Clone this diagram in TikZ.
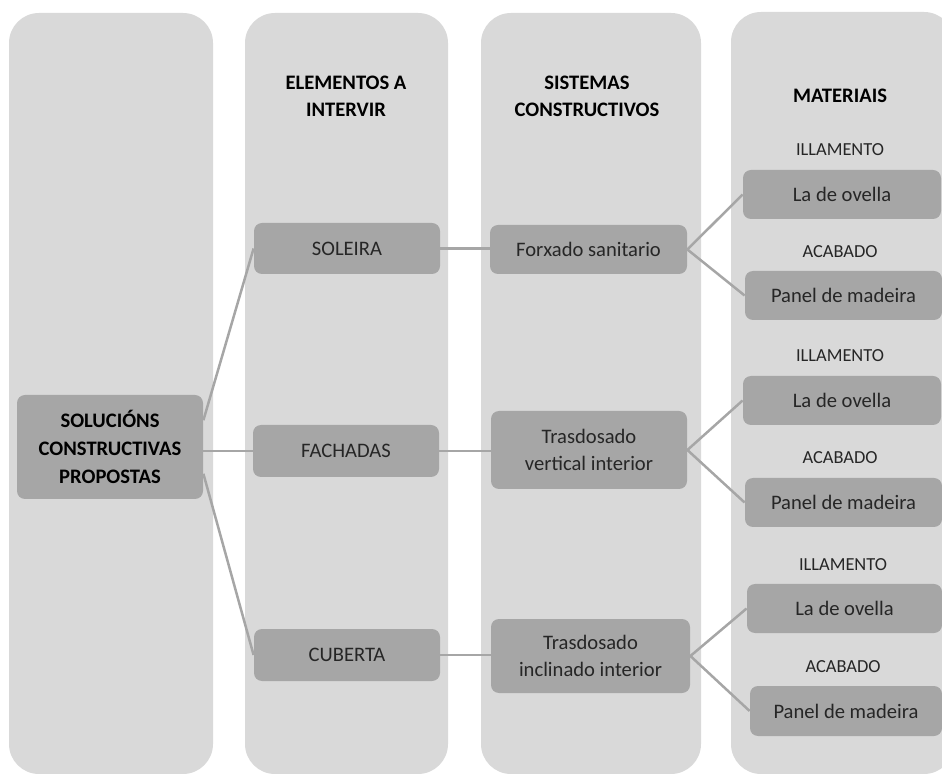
\documentclass[tikz,border=0pt]{standalone}
\usepackage{fontspec}
\setmainfont{Carlito}
\usetikzlibrary{positioning}
\definecolor{colgray}{RGB}{217, 217, 217}
\definecolor{boxgray}{RGB}{166, 166, 166}
\definecolor{textgray}{RGB}{38, 38, 38}

\begin{document}
\begin{tikzpicture}[x=0.5pt, y=-0.5pt,
    colbg/.style={fill=colgray, rounded corners=15pt},
    head/.style={font=\fontsize{10.3}{13.5}\selectfont\bfseries, text=black, align=center},
    box/.style={fill=boxgray, rounded corners=4pt, font=\fontsize{10.3}{13.5}\selectfont,
        text=textgray, align=center, inner sep=0pt},
    lbl/.style={font=\fontsize{9.2}{11}\selectfont, text=textgray},
    link/.style={draw=boxgray, line width=1.25pt}]

                \useasboundingbox (0, 0) rectangle (942, 774);

                \fill[colbg] (9, 13) rectangle (213, 774);
                \fill[colbg] (245, 13) rectangle (448, 774);
                \fill[colbg] (481, 13) rectangle (701, 774);
                \fill[colbg] (731, 12) rectangle (954, 774);

                \node[head] (elemhead) at (346, 96) {ELEMENTOS A\\INTERVIR};
                \node[head] (sisthead) at (587, 96) {SISTEMAS\\CONSTRUCTIVOS};
                \node[head] (mathead) at (840, 96) {MATERIAIS};

                \node[box, font=\fontsize{10.3}{14}\selectfont\bfseries, text=black,
                    minimum width=93pt, minimum height=52pt]
                    (sol) at (110, 447) {SOLUCIÓNS\\CONSTRUCTIVAS\\PROPOSTAS};

                \node[box, minimum width=93pt, minimum height=25.5pt]
                    (soleira) at (347, 248.5) {SOLEIRA};
                \node[box, minimum width=93pt, minimum height=26pt]
                    (fachadas) at (346, 451) {FACHADAS};
                \node[box, minimum width=93pt, minimum height=26pt]
                    (cuberta) at (347, 655) {CUBERTA};

                \node[box, minimum width=98.5pt, minimum height=24.5pt]
                    (forxado) at (588.5, 249.5) {Forxado sanitario};
                \node[box, minimum width=98pt, minimum height=39pt]
                    (trasvert) at (589, 450) {Trasdosado\\vertical interior};
                \node[box, minimum width=99.5pt, minimum height=37pt]
                    (trasincl) at (590.5, 656) {Trasdosado\\inclinado interior};

                \node[lbl] (illa1) at (840, 150) {ILLAMENTO};
                \node[box, minimum width=99pt, minimum height=24.5pt]
                    (la1) at (842, 194.5) {La de ovella};
                \node[lbl] (acab1) at (840, 252) {ACABADO};
                \node[box, minimum width=98.5pt, minimum height=24.5pt]
                    (panel1) at (843.5, 295.5) {Panel de madeira};

                \node[lbl] (illa2) at (840, 356) {ILLAMENTO};
                \node[box, minimum width=99pt, minimum height=24.5pt]
                    (la2) at (842, 400.5) {La de ovella};
                \node[lbl] (acab2) at (840, 458) {ACABADO};
                \node[box, minimum width=98.5pt, minimum height=24.5pt]
                    (panel2) at (843.5, 502.5) {Panel de madeira};

                \node[lbl] (illa3) at (843, 565) {ILLAMENTO};
                \node[box, minimum width=97.5pt, minimum height=24.5pt]
                    (la3) at (844.5, 608.5) {La de ovella};
                \node[lbl] (acab3) at (843, 667) {ACABADO};
                \node[box, minimum width=96pt, minimum height=25pt]
                    (panel3) at (846, 711) {Panel de madeira};

                \draw[link] (sol.16) -- (soleira.west);
                \draw[link] (sol.east |- fachadas.west) -- (fachadas.west);
                \draw[link] (sol.-16) -- (cuberta.west);

                \draw[link] (soleira.east) -- (soleira.east -| forxado.west);
                \draw[link] (fachadas.east) -- (fachadas.east -| trasvert.west);
                \draw[link] (cuberta.east) -- (cuberta.east -| trasincl.west);

                \draw[link] (forxado.east) -- (la1.west);
                \draw[link] (forxado.east) -- (panel1.west);
                \draw[link] (trasvert.east) -- (la2.west);
                \draw[link] (trasvert.east) -- (panel2.west);
                \draw[link] (trasincl.east) -- (la3.west);
                \draw[link] (trasincl.east) -- (panel3.west);

            \end{tikzpicture}
\end{document}
